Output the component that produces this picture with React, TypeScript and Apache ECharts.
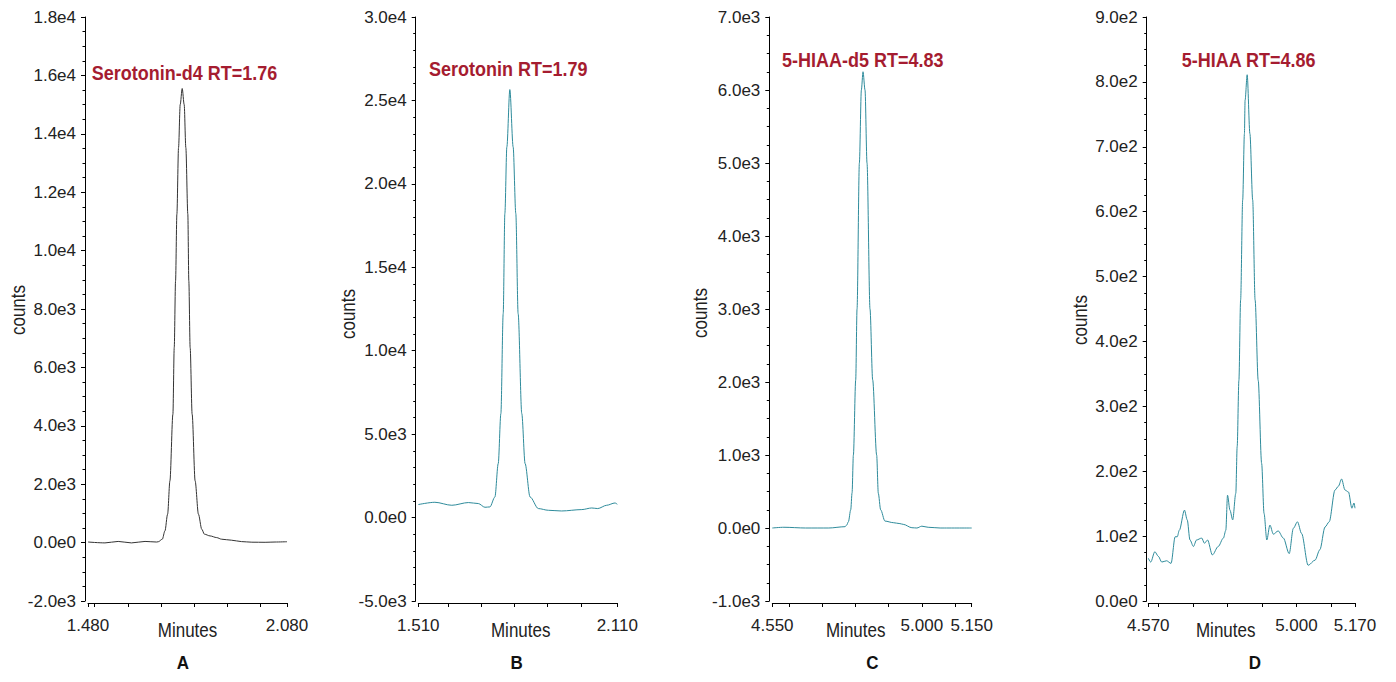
import React, { useEffect, useRef } from "react";
import * as echarts from "echarts";

// ---------- data ----------
const timesA = [1.48, 1.531, 1.571, 1.611, 1.652, 1.687, 1.692, 1.704, 1.712, 1.72, 1.727, 1.736, 1.74, 1.744, 1.748, 1.753, 1.758, 1.764, 1.77, 1.775, 1.781, 1.784, 1.788, 1.794, 1.803, 1.813, 1.823, 1.831, 1.848, 1.868, 1.883, 1.913, 1.943, 1.974, 2.014, 2.044, 2.08];
const countsA = [20, -10, 40, -10, 40, 20, 30, 116, 400, 972, 2113, 4397, 6678, 8962, 11246, 13527, 15000, 15550, 15000, 13527, 11246, 8962, 6678, 4397, 2113, 972, 459, 288, 229, 171, 116, 82, 34, 14, 10, 20, 30];

const timesB = [1.51, 1.56, 1.611, 1.661, 1.691, 1.711, 1.726, 1.741, 1.751, 1.759, 1.766, 1.771, 1.777, 1.786, 1.796, 1.804, 1.811, 1.822, 1.832, 1.847, 1.872, 1.902, 1.942, 2.003, 2.033, 2.051, 2.078, 2.103, 2.11];
const countsB = [780, 917, 737, 900, 840, 617, 640, 1234, 3236, 6233, 12226, 18220, 22210, 25650, 22210, 18220, 12226, 6233, 3236, 1234, 540, 437, 395, 479, 575, 539, 737, 875, 797];

const timesC = [4.55, 4.585, 4.65, 4.72, 4.769, 4.774, 4.779, 4.786, 4.79, 4.794, 4.801, 4.805, 4.812, 4.818, 4.823, 4.829, 4.835, 4.844, 4.852, 4.864, 4.869, 4.876, 4.889, 4.914, 4.934, 4.944, 4.97, 4.985, 5.0, 5.019, 5.055, 5.15];
const countsC = [0, 10, 0, 0, 18, 41, 86, 250, 480, 1000, 2030, 3000, 5000, 6000, 6250, 6000, 5000, 3000, 2030, 1000, 475, 250, 95, 73, 60, 50, 4, 0, 25, 10, 0, 0];

const timesD = [4.57, 4.577, 4.589, 4.599, 4.609, 4.623, 4.636, 4.648, 4.654, 4.66, 4.675, 4.683, 4.691, 4.701, 4.71, 4.725, 4.733, 4.742, 4.756, 4.773, 4.788, 4.795, 4.8, 4.807, 4.815, 4.824, 4.828, 4.833, 4.838, 4.844, 4.849, 4.851, 4.857, 4.865, 4.873, 4.88, 4.889, 4.899, 4.906, 4.914, 4.923, 4.933, 4.947, 4.962, 4.979, 4.991, 5.003, 5.015, 5.034, 5.054, 5.068, 5.083, 5.095, 5.112, 5.122, 5.131, 5.141, 5.151, 5.161, 5.167, 5.17];
const countsD = [66, 60, 76, 69, 60, 62, 58, 99, 99, 109, 140, 125, 94, 84, 94, 97, 89, 94, 71, 84, 97, 109, 163, 140, 125, 166, 238, 340, 464, 618, 720, 772, 811, 720, 618, 464, 340, 212, 135, 94, 117, 103, 108, 97, 73, 112, 122, 104, 55, 63, 79, 114, 122, 171, 177, 188, 171, 168, 143, 151, 143];

const titles = ["Serotonin-d4 RT=1.76", "Serotonin RT=1.79", "5-HIAA-d5 RT=4.83", "5-HIAA RT=4.86"];
const panelLetters = ["A", "B", "C", "D"];
const xMin = [1.48, 1.51, 4.55, 4.57];
const xMax = [2.08, 2.11, 5.15, 5.17];
const xTickValues = [
  [1.48, 1.5, 1.6, 1.7, 1.8, 1.9, 2.0, 2.08],
  [1.51, 1.6, 1.7, 1.8, 1.9, 2.0, 2.11],
  [4.55, 4.6, 4.7, 4.8, 4.9, 5.0, 5.1, 5.15],
  [4.57, 4.6, 4.7, 4.8, 4.9, 5.0, 5.1, 5.17],
];
const xLabelValues = [
  [1.48, 2.08],
  [1.51, 2.11],
  [4.55, 5.0, 5.15],
  [4.57, 5.0, 5.17],
];
const yMin = [-2000, -5000, -1000, 0];
const yMax = [18000, 30000, 7000, 900];
const yInterval = [2000, 5000, 1000, 100];
const yMinorSplit = [4, 5, 4, 4];

const allTimes = [timesA, timesB, timesC, timesD];
const allCounts = [countsA, countsB, countsC, countsD];

// ---------- layout ----------
const gridLeft = [88, 418.3, 772.3, 1148.3];
const gridWidth = [199, 199, 199.4, 206.7];
const yOffset = [3, 2.6, 3, 1.6];
const lineColors = ["#333333", "#2E8B9B", "#2E8B9B", "#2E8B9B"];
const titlePos = [[91.7, 73], [429, 69], [782, 60], [1181.7, 60]];
const countsPos = [[18, 310], [348, 314], [700, 313], [1080, 320]];
const minutesPos = [[187.5, 630], [520.7, 630], [855.7, 630], [1225.7, 630]];
const letterPos = [[183, 663], [516.7, 663], [872.3, 663], [1255, 663]];

const FONT = "'Liberation Sans', Arial, sans-serif";

const fmtY = (v: number) => {
  if (Math.abs(v) < 1e-9) return "0.0e0";
  const e = Math.floor(Math.log10(Math.abs(v)) + 1e-9);
  const m = v / Math.pow(10, e);
  return m.toFixed(1) + "e" + e;
};

export default function App() {
  const ref = useRef<HTMLDivElement>(null);
  useEffect(() => {
    if (!ref.current) return;
    const chart = echarts.init(ref.current, null, { renderer: "svg" });
    const grids = [0, 1, 2, 3].map((i) => ({
      left: gridLeft[i],
      top: 17,
      width: gridWidth[i],
      height: 584,
      containLabel: false,
    }));
    const xAxes = [0, 1, 2, 3].map((i) => ({
      type: "value",
      gridIndex: i,
      min: xMin[i],
      max: xMax[i],
      offset: 2,
      splitLine: { show: false },
      axisLine: { show: true, onZero: false, lineStyle: { color: "#000", width: 1 } },
      axisTick: { show: true, length: 4, lineStyle: { color: "#000" }, customValues: xTickValues[i] },
      axisLabel: {
        show: true,
        customValues: xLabelValues[i],
        formatter: (v: number) => v.toFixed(3),
        color: "#222",
        fontSize: 17,
        fontFamily: FONT,
        margin: 14,
        showMinLabel: true,
        showMaxLabel: true,
        hideOverlap: false,
      },
    }));
    const yAxes = [0, 1, 2, 3].map((i) => ({
      type: "value",
      gridIndex: i,
      min: yMin[i],
      max: yMax[i],
      interval: yInterval[i],
      offset: yOffset[i],
      splitLine: { show: false },
      axisLine: { show: true, lineStyle: { color: "#000", width: 1 } },
      axisTick: { show: true, length: 4, lineStyle: { color: "#000" } },
      minorTick: { show: true, splitNumber: yMinorSplit[i], length: 2.5, lineStyle: { color: "#000" } },
      minorSplitLine: { show: false },
      axisLabel: {
        formatter: fmtY,
        color: "#222",
        fontSize: 17,
        fontFamily: FONT,
        margin: 9,
        showMinLabel: true,
        showMaxLabel: true,
      },
    }));
    const series = [0, 1, 2, 3].map((i) => ({
      type: "line",
      xAxisIndex: i,
      yAxisIndex: i,
      data: allTimes[i].map((t, j) => [t, allCounts[i][j]]),
      showSymbol: false,
      symbol: "none",
      smooth: 0.3,
      smoothMonotone: "x",
      lineStyle: { color: lineColors[i], width: 1 },
      silent: true,
    }));
    const graphics: any[] = [];
    const txt = (x: number, y: number, text: string, font: string, fill: string, align: string, extra: any = {}) => ({
      type: "text",
      x,
      y,
      ...extra,
      style: {
        text,
        fill,
        font,
        align,
        verticalAlign: "middle",
        textAlign: align,
        textVerticalAlign: "middle",
      },
    });
    for (let i = 0; i < 4; i++) {
      graphics.push(txt(titlePos[i][0], titlePos[i][1], titles[i], `bold 18px ${FONT}`, "#A51C30", "left", { scaleY: 1.12 }));
      graphics.push(txt(countsPos[i][0], countsPos[i][1], "counts", `17px ${FONT}`, "#222", "center", { rotation: Math.PI / 2, scaleY: 1.15 }));
      graphics.push(txt(minutesPos[i][0], minutesPos[i][1], "Minutes", `17px ${FONT}`, "#222", "center", { scaleY: 1.15 }));
      graphics.push(txt(letterPos[i][0], letterPos[i][1], panelLetters[i], `bold 17px ${FONT}`, "#111", "center", { scaleY: 1.05 }));
    }
    chart.setOption({
      animation: false,
      backgroundColor: "#fff",
      grid: grids,
      xAxis: xAxes,
      yAxis: yAxes,
      series,
      graphic: graphics,
    });
    return () => chart.dispose();
  }, []);
  return <div ref={ref} style={{ position: "fixed", left: 0, top: 0, width: 1396, height: 682 }} />;
}
